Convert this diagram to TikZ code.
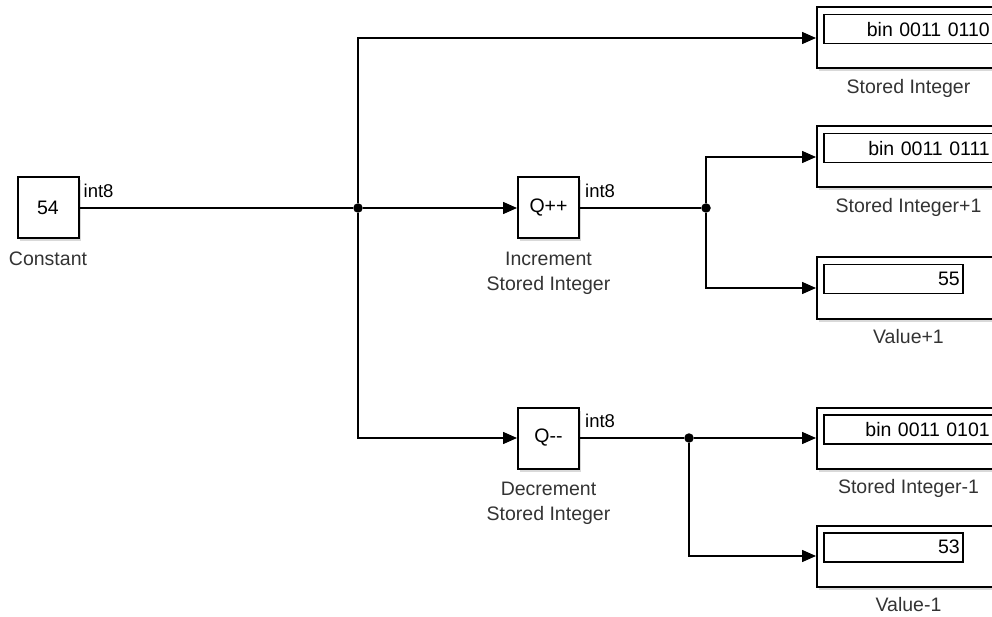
\documentclass[tikz,border=0pt]{standalone}
\usepackage{fontspec}
\setmainfont{Liberation Sans}
\usetikzlibrary{arrows.meta,positioning,shadows}

\begin{document}
\begin{tikzpicture}[
  x=1pt, y=-1pt,
  font=\fontsize{19.5}{25}\selectfont,
  >={Triangle[length=14pt,width=12pt]},
  block/.style={
    draw=black,
    line width=2pt,
    fill=white,
    inner sep=0pt,
    minimum width=61pt,
    minimum height=61pt,
    drop shadow={shadow xshift=2pt, shadow yshift=-3pt, opacity=0.3}
  },
  display/.style={block, minimum width=183pt},
  readout/.style={
    draw=black,
    line width=1.5pt,
    anchor=north west,
    minimum height=29pt,
    inner ysep=0pt,
    inner xsep=3pt,
    text width=#1,
    align=right
  },
  caption/.style={text=black!80, inner sep=0pt, align=center},
  dtype/.style={anchor=south west, inner sep=0pt, font=\fontsize{18.5}{22}\selectfont},
  wire/.style={line width=1.5pt},
  sig/.style={wire, ->},
  junction/.style={circle, fill=black, inner sep=0pt, minimum size=9.5pt}
]
  \path[use as bounding box, clip] (0,0) rectangle (992,617);

  % Source and arithmetic blocks
  \node[block] (const) at (48,208) {54};
  \node[caption, below=12pt of const] (constcap) {Constant};
  \node[dtype] at ([xshift=4pt,yshift=10pt]const.east) {int8};

  \node[block] (inc) at (548.5,208) {Q++};
  \node[caption, below=12pt of inc] (inccap) {Increment\\Stored Integer};
  \node[dtype] at ([xshift=5pt,yshift=10pt]inc.east) {int8};

  \node[block] (dec) at (548.5,438) {Q-{}-};
  \node[caption, below=12pt of dec] (deccap) {Decrement\\Stored Integer};
  \node[dtype] at ([xshift=5pt,yshift=10pt]dec.east) {int8};

  % Display blocks
  \node[display] (d1) at (908.5,38) {};
  \node[readout=163pt] (r1) at ([xshift=7pt,yshift=-7.5pt]d1.north west) {bin 0011 0110};
  \node[caption, below=10pt of d1] (d1cap) {Stored Integer};

  \node[display] (d2) at (908.5,157) {};
  \node[readout=163pt] (r2) at ([xshift=7pt,yshift=-7.5pt]d2.north west) {bin 0011 0111};
  \node[caption, below=10pt of d2] (d2cap) {Stored Integer+1};

  \node[display] (d3) at (908.5,288) {};
  \node[readout=133pt] (r3) at ([xshift=7pt,yshift=-7.5pt]d3.north west) {55};
  \node[caption, below=10pt of d3] (d3cap) {Value+1};

  \node[display] (d4) at (908.5,438) {};
  \node[readout=163pt] (r4) at ([xshift=7pt,yshift=-7.5pt]d4.north west) {bin 0011 0101};
  \node[caption, below=10pt of d4] (d4cap) {Stored Integer-1};

  \node[display] (d5) at (908.5,556) {};
  \node[readout=133pt] (r5) at ([xshift=7pt,yshift=-7.5pt]d5.north west) {53};
  \node[caption, below=10pt of d5] (d5cap) {Value-1};

  % Signal lines
  \node[junction] (j1) at (358,208) {};
  \node[junction] (j2) at (706,208) {};
  \node[junction] (j3) at (689,438) {};

  \draw[wire] (const) -- (j1);
  \draw[sig] (j1) -- (inc);
  \draw[sig] (j1) |- (d1);
  \draw[sig] (j1) |- (dec);

  \draw[wire] (inc) -- (j2);
  \draw[sig] (j2) |- (d2);
  \draw[sig] (j2) |- (d3);

  \draw[wire] (dec) -- (j3);
  \draw[sig] (j3) -- (d4);
  \draw[sig] (j3) |- (d5);
\end{tikzpicture}
\end{document}
